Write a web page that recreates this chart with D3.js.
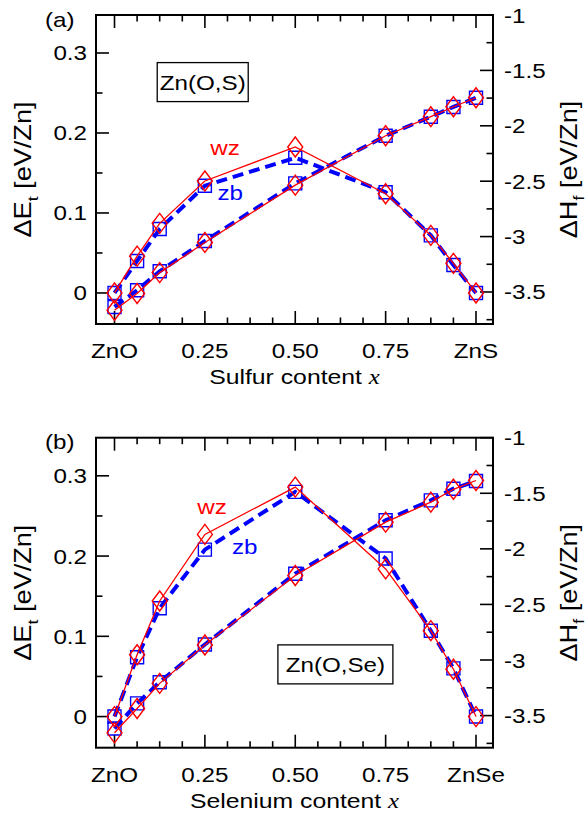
<!DOCTYPE html>
<html>
<head>
<meta charset="utf-8">
<script src="https://cdn.jsdelivr.net/npm/d3@7"></script>
<style>
  body { margin: 0; background: #fff; }
  text { font-family: "Liberation Sans", Arial, sans-serif; }
</style>
</head>
<body>
<svg id="chart" width="586" height="813"></svg>
<script>
// composition x (0 = ZnO, 1 = ZnS / ZnSe)
var xVals = [0, 0.0625, 0.125, 0.25, 0.5, 0.75, 0.875, 0.9375, 1];
var xTicks = [0, 0.25, 0.5, 0.75, 1];
var xTickLabelsA = ["ZnO", "0.25", "0.50", "0.75", "ZnS"];
var xTickLabelsB = ["ZnO", "0.25", "0.50", "0.75", "ZnSe"];
var leftTicks = [0, 0.1, 0.2, 0.3];
var rightTicks = [-3.5, -3, -2.5, -2, -1.5, -1];

// panel (a) Zn(O,S)
var aEtWz = [0, 0.046, 0.087, 0.140, 0.1825, 0.124, 0.072, 0.037, 0];
var aEtZb = [0, 0.040, 0.080, 0.134, 0.169, 0.126, 0.072, 0.035, 0];
var aHfWz = [-3.665, -3.514, -3.325, -3.053, -2.536, -2.09, -1.918, -1.828, -1.747];
var aHfZb = [-3.635, -3.484, -3.313, -3.04, -2.52, -2.09, -1.918, -1.83, -1.747];

// panel (b) Zn(O,Se)
var bEtWz = [0, 0.077, 0.144, 0.227, 0.286, 0.184, 0.107, 0.059, 0];
var bEtZb = [0, 0.074, 0.135, 0.208, 0.280, 0.197, 0.107, 0.060, 0];
var bHfWz = [-3.655, -3.436, -3.21, -2.865, -2.24, -1.76, -1.58, -1.464, -1.385];
var bHfZb = [-3.616, -3.39, -3.20, -2.86, -2.224, -1.743, -1.564, -1.459, -1.39];

var svg = d3.select("#chart");
var left = 96, right = 493;
var red = "#ff0000", blue = "#0000ff";
var sx = 1.18; // glyphs in the figure are wide

var x = d3.scaleLinear().domain([-0.0512, 1.047]).range([left, right]);

function wideText(g, tx, ty, str, size, anchor, rot) {
    var t = g.append("text")
        .attr("transform", "translate(" + tx + "," + ty + ")" + (rot ? " rotate(" + rot + ")" : "") + " scale(" + sx + ",1)")
        .attr("font-size", size)
        .attr("text-anchor", anchor || "start");
    if (str != null) t.text(str);
    return t;
}

function drawPanel(cfg) {
    var top = cfg.top, bottom = cfg.top + cfg.h;
    var yL = d3.scaleLinear().domain([-0.0388, 0.3475]).range([bottom, top]);
    var yR = d3.scaleLinear().domain([-3.789, -1]).range([bottom, top]);
    var g = svg.append("g");

    // clip for data
    var clipId = "clip" + cfg.name;
    svg.append("clipPath").attr("id", clipId)
        .append("rect").attr("x", left).attr("y", top).attr("width", right - left).attr("height", cfg.h);

    // ticks
    var minorX = d3.range(0, 17).map(i => i / 16);
    minorX.forEach(function (v) {
        var major = xTicks.some(t => Math.abs(t - v) < 1e-9);
        var len = major ? 13 : 6.5;
        g.append("line").attr("x1", x(v)).attr("x2", x(v)).attr("y1", bottom).attr("y2", bottom - len)
            .attr("stroke", "#000").attr("stroke-width", 1.6);
        g.append("line").attr("x1", x(v)).attr("x2", x(v)).attr("y1", top).attr("y2", top + len)
            .attr("stroke", "#000").attr("stroke-width", 1.6);
    });
    d3.range(0, 7).map(i => i * 0.05).forEach(function (v) {
        var major = Math.abs(v * 10 - Math.round(v * 10)) < 1e-6;
        var len = major ? 13 : 6.5;
        g.append("line").attr("x1", left).attr("x2", left + len).attr("y1", yL(v)).attr("y2", yL(v))
            .attr("stroke", "#000").attr("stroke-width", 1.6);
    });
    d3.range(0, 12).map(i => -3.75 + i * 0.25).forEach(function (v) {
        var major = Math.abs(v * 2 - Math.round(v * 2)) < 1e-6;
        var len = major ? 13 : 6.5;
        g.append("line").attr("x1", right).attr("x2", right - len).attr("y1", yR(v)).attr("y2", yR(v))
            .attr("stroke", "#000").attr("stroke-width", 1.6);
    });

    // tick labels
    xTicks.forEach(function (v, i) {
        wideText(g, x(v), bottom + 34, cfg.xLabels[i], 20.5, "middle");
    });
    leftTicks.forEach(function (v) {
        wideText(g, left - 9, yL(v) + 7.5, v === 0 ? "0" : d3.format(".1f")(v), 20.5, "end");
    });
    rightTicks.forEach(function (v) {
        wideText(g, right + 11, yR(v) + 7.5, String(v), 20.5, "start");
    });

    // axis titles
    var xt = wideText(g, (left + right) / 2, bottom + 60, null, 21, "middle");
    xt.append("tspan").text(cfg.xTitle + " content ");
    xt.append("tspan").attr("font-family", "Liberation Serif, serif").attr("font-style", "italic").text("x");

    var yt = wideText(g, 31, (top + bottom) / 2, null, 23, "middle", -90);
    yt.append("tspan").text("\u0394E");
    yt.append("tspan").attr("font-size", 15).attr("dy", 7).text("t");
    yt.append("tspan").attr("dy", -7).text(" [eV/Zn]");

    var yt2 = wideText(g, 577, (top + bottom) / 2, null, 23, "middle", -90);
    yt2.append("tspan").text("\u0394H");
    yt2.append("tspan").attr("font-size", 15).attr("dy", 7).text("f");
    yt2.append("tspan").attr("dy", -7).text(" [eV/Zn]");

    wideText(g, 45, top + 11.5, cfg.tag, 20.5, "start");

    // data
    var d = svg.append("g").attr("clip-path", "url(#" + clipId + ")");
    var lineL = d3.line().x((v, i) => x(xVals[i])).y(v => yL(v));
    var lineR = d3.line().x((v, i) => x(xVals[i])).y(v => yR(v));

    function series(vals, line, yScale, color, dashed, shape) {
        d.append("path").datum(vals).attr("d", line)
            .attr("fill", "none").attr("stroke", color)
            .attr("stroke-width", dashed ? 4 : 1.3)
            .attr("stroke-dasharray", dashed ? "11,6" : null);
        var pts = d.append("g").selectAll("path").data(vals).join("path")
            .attr("transform", (v, i) => "translate(" + x(xVals[i]) + "," + yScale(v) + ")")
            .attr("fill", "none").attr("stroke", color).attr("stroke-width", 1.4);
        if (shape === "square") pts.attr("d", "M-6.5,-6.5H6.5V6.5H-6.5Z");
        else pts.attr("d", "M0,-10L7.5,0L0,10L-7.5,0Z");
    }
    series(cfg.etZb, lineL, yL, blue, true, "square");
    series(cfg.hfZb, lineR, yR, blue, true, "square");
    series(cfg.etWz, lineL, yL, red, false, "diamond");
    series(cfg.hfWz, lineR, yR, red, false, "diamond");

    // labels
    wideText(g, x(cfg.wzPos[0]), yL(cfg.wzPos[1]), "wz", 20.5, "middle").attr("fill", red);
    wideText(g, x(cfg.zbPos[0]), yL(cfg.zbPos[1]), "zb", 20.5, "middle").attr("fill", blue);

    // compound box
    var bx = x(cfg.boxPos[0]), by = yL(cfg.boxPos[1]);
    g.append("rect").attr("x", bx - cfg.boxW / 2).attr("y", by - 20).attr("width", cfg.boxW).attr("height", 39)
        .attr("fill", "#fff").attr("stroke", "#000").attr("stroke-width", 1.3);
    wideText(g, bx, by + 7.5, cfg.box, 20.5, "middle");

    // frame
    g.append("rect").attr("x", left).attr("y", top).attr("width", right - left).attr("height", cfg.h)
        .attr("fill", "none").attr("stroke", "#000").attr("stroke-width", 2);
}

drawPanel({
    name: "a", top: 15, h: 309, tag: "(a)", xTitle: "Sulfur", xLabels: xTickLabelsA,
    etWz: aEtWz, etZb: aEtZb, hfWz: aHfWz, hfZb: aHfZb,
    wzPos: [0.306, 0.1725], zbPos: [0.32, 0.116],
    box: "Zn(O,S)", boxPos: [0.244, 0.263], boxW: 91
});
drawPanel({
    name: "b", top: 437.7, h: 310, tag: "(b)", xTitle: "Selenium", xLabels: xTickLabelsB,
    etWz: bEtWz, etZb: bEtZb, hfWz: bHfWz, hfZb: bHfZb,
    wzPos: [0.27, 0.2525], zbPos: [0.36, 0.202],
    box: "Zn(O,Se)", boxPos: [0.611, 0.0644], boxW: 115
});
</script>
</body>
</html>
